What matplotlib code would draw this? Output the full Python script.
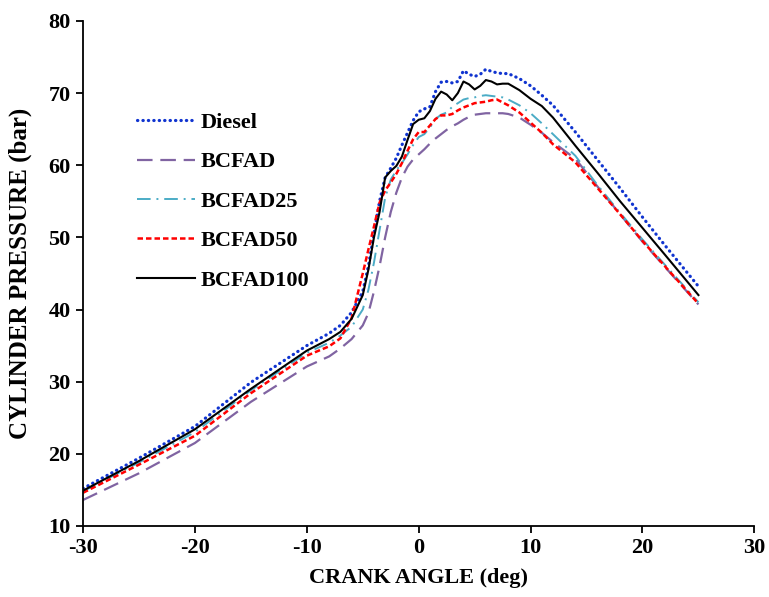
import numpy as np
import matplotlib
matplotlib.use("Agg")
import matplotlib.pyplot as plt

# crank angle (deg) grid
crank = [-30, -25, -20, -15, -10, -8, -7, -6, -5, -4.5, -4, -3.5, -3, -2.5, -2, -1.5, -1, -0.5,
         0, 0.5, 1, 1.5, 2, 2.5, 3, 3.5, 4, 4.5, 5, 5.5, 6, 6.5, 7, 7.5, 8, 9, 10, 11, 12,
         14, 16, 18, 20, 22, 25]

diesel = [15.2, 19.4, 23.8, 29.9, 35.0, 36.7, 37.8, 39.6, 42.5, 46.0, 50.5, 55.0, 58.3, 59.6,
          61.0, 62.8, 64.5, 66.2, 67.4, 67.8, 68.1, 70.2, 71.5, 71.6, 71.4, 71.6, 73.1, 72.6,
          72.3, 72.6, 73.3, 73.0, 72.8, 72.7, 72.7, 72.0, 71.0, 69.7, 68.3, 64.6, 60.7, 56.8,
          52.8, 48.9, 43.2]
bcfad = [13.6, 17.3, 21.5, 27.2, 32.1, 33.5, 34.6, 35.9, 37.8, 39.5, 42.5, 46.0, 50.0, 53.5,
         56.2, 58.3, 59.8, 60.8, 61.5, 62.2, 63.0, 63.7, 64.3, 64.9, 65.4, 65.8, 66.3, 66.7,
         67.0, 67.1, 67.2, 67.2, 67.2, 67.2, 67.1, 66.6, 65.6, 64.5, 63.2, 60.9, 57.0, 53.2,
         49.4, 45.9, 40.7]
bcfad25 = [14.8, 18.8, 23.0, 28.8, 34.0, 35.4, 36.4, 37.6, 40.0, 42.7, 46.5, 51.0, 55.5, 58.0,
           59.3, 60.3, 61.5, 62.8, 63.9, 64.3, 65.2, 66.4, 67.0, 67.3, 68.1, 68.6, 69.1, 69.3,
           69.4, 69.6, 69.7, 69.6, 69.5, 69.4, 69.1, 68.3, 67.2, 65.8, 64.3, 61.3, 57.2, 53.4,
           49.7, 46.2, 41.0]
bcfad50 = [14.6, 18.5, 22.5, 28.4, 33.6, 34.9, 36.0, 38.8, 45.0, 48.3, 51.5, 54.8, 56.5, 57.6,
           58.8, 60.3, 62.0, 63.6, 64.6, 64.6, 65.5, 66.4, 66.9, 66.9, 67.1, 67.6, 68.0, 68.3,
           68.6, 68.7, 68.8, 69.0, 69.1, 68.7, 68.3, 67.3, 65.9, 64.5, 62.9, 60.4, 56.8, 53.2,
           49.5, 46.0, 40.8]
bcfad100 = [14.9, 19.0, 23.4, 29.0, 34.3, 35.9, 36.9, 38.7, 42.0, 45.5, 50.0, 53.5, 58.3, 59.2,
            59.9, 61.2, 63.5, 65.7, 66.3, 66.5, 67.5, 69.2, 70.2, 69.8, 69.0, 70.0, 71.6, 71.2,
            70.5, 71.0, 71.8, 71.6, 71.2, 71.3, 71.3, 70.4, 69.2, 68.2, 66.6, 62.7, 58.9, 55.0,
            51.3, 47.6, 42.0]

plt.rcParams['font.family'] = ['Liberation Serif', 'DejaVu Serif']
plt.rcParams['font.weight'] = 'bold'
plt.rcParams['axes.unicode_minus'] = False

fig = plt.figure(figsize=(7.69, 5.97), dpi=100)
ax = fig.add_axes([0.108, 0.119, 0.873, 0.846])

ax.plot(crank, diesel, color='#1034d0', lw=2.3, linestyle=(0, (0.1, 1.6)),
        dash_capstyle='round', label='Diesel')
ax.plot(crank, bcfad, color='#8064a2', lw=1.6, linestyle=(0, (7, 3.5)), label='BCFAD')
ax.plot(crank, bcfad25, color='#4bacc6', lw=1.4, linestyle=(0, (7, 3, 1, 3)), label='BCFAD25')
ax.plot(crank, bcfad50, color='#ff0000', lw=1.8, linestyle=(0, (2.2, 1.2)), label='BCFAD50')
ax.plot(crank, bcfad100, color='black', lw=1.5, label='BCFAD100')

ax.set_xlim(-30, 30)
ax.set_ylim(10, 80)
ax.set_xticks(np.arange(-30, 31, 10))
ax.set_yticks(np.arange(10, 81, 10))
ax.spines['top'].set_visible(False)
ax.spines['right'].set_visible(False)
ax.spines['left'].set_linewidth(1.3)
ax.spines['bottom'].set_linewidth(1.3)
ax.tick_params(direction='out', length=5, width=1.3, labelsize=16, pad=4)
ax.set_xlabel('CRANK ANGLE (deg)', fontsize=16, fontweight='bold', labelpad=7)
ax.set_ylabel('CYLINDER PRESSURE (bar)', fontsize=18, fontweight='bold', labelpad=12)

leg = ax.legend(loc='upper left', bbox_to_anchor=(0.064, 0.841), frameon=False,
                fontsize=16, handlelength=2.6, handletextpad=0.25, labelspacing=0.85,
                borderpad=0)

fig.savefig('out.png', dpi=100)
